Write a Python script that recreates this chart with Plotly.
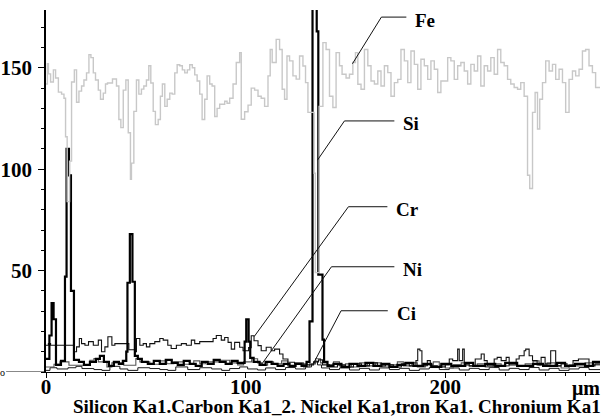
import plotly.graph_objects as go

# ---- data (distance in µm, counts) ----
fe_profile = [
    (0, 142), (0.7, 152), (1.2, 147), (2.3, 143), (3.7, 149), (4.8, 145), (6.2, 138), (7.8, 137),
    (9, 135), (9.8, 116), (10.6, 84), (11.8, 104), (12.8, 143), (14.2, 149), (15.3, 133), (16.5, 138.5),
    (17.8, 141), (19, 144), (20.3, 147.5), (21.5, 156.5), (22.5, 155), (23.7, 147.5), (24.8, 144),
    (26.2, 139), (27.3, 134.5), (28.7, 137.5), (29.8, 142), (30.8, 142.5), (33.3, 144.5), (35.3, 141),
    (36.5, 124.5), (37.5, 120.5), (38.7, 139), (40, 144), (41.2, 118), (42.3, 95), (42.8, 103),
    (44, 128.5), (45.3, 144), (46.5, 137), (47.8, 139.5), (49, 141), (50.3, 144), (51.5, 151),
    (52.5, 142.5), (53.7, 128.5), (54.8, 122), (56.2, 124.5), (57.3, 136), (58.3, 142), (59.5, 131),
    (60.7, 134.5), (62, 137.5), (63.2, 137), (64.5, 147.5), (65.7, 151.5), (67, 151), (68.3, 149),
    (69.5, 147.5), (70.8, 149), (72, 151.5), (73.3, 150), (74.5, 146.5), (75.7, 143.5), (77, 137),
    (78.2, 124.5), (79.5, 134.5), (80.7, 146), (82, 142), (83.2, 141), (84.5, 126), (85.7, 130),
    (87, 132), (88.2, 132), (89.5, 133.5), (90.7, 132.5), (92, 135), (93.7, 142), (95.3, 152.6),
    (97, 157.5), (97.8, 124.6), (99.5, 128.3), (101.2, 131.6), (102.8, 140), (104.5, 139), (106.2, 136),
    (107.8, 135), (109.5, 131), (111.2, 146), (112.3, 159), (113.3, 152.6), (115.3, 164), (117, 159),
    (118.3, 139.4), (119.5, 134.5), (120.7, 155.8), (122, 153.4), (123.7, 146), (125.3, 144.4),
    (127, 155.8), (128.7, 150.9), (130, 142.7), (131.2, 128), (134.3, 98), (134.9, 49), (136.8, 131),
    (138.7, 162.4), (140.3, 159), (142, 136), (143.7, 130.4), (145.3, 157.5), (147, 151), (148.3, 146.8),
    (150.3, 145), (152, 146.8), (153.7, 152.6), (155, 157.5), (156.2, 141.9), (157.8, 139.4), (159.5, 159),
    (161.2, 151), (162.8, 143.5), (164.5, 142), (166.2, 148.4), (167.8, 141), (169.5, 151), (171.2, 147.6),
    (172.8, 136), (174.5, 142.7), (176.2, 144.3), (177.8, 159), (179.5, 153.4), (181.2, 142.7),
    (182.8, 158.3), (184.5, 151.7), (186.2, 139.4), (187.8, 154.2), (189.5, 151), (191.2, 144.3),
    (192.8, 153.4), (194.5, 149.3), (196.2, 137.8), (197.8, 143.5), (201.2, 155), (202.8, 153.4),
    (204.5, 144.3), (206.2, 151), (207.8, 152.6), (209.5, 148.4), (211.2, 142), (212.8, 151.7),
    (214.5, 148.4), (216.2, 155.8), (217.8, 141), (219.5, 151), (221.2, 148.4), (222.8, 155),
    (224.5, 146.8), (226.2, 159), (227.8, 152.6), (229.5, 151), (231.2, 144.3), (232.8, 142),
    (234.5, 140.3), (236.2, 139.4), (237.8, 142.7), (239.5, 136), (241.2, 97), (242.3, 90.5),
    (243.7, 128), (245, 137.8), (246.2, 119.8), (247.3, 134.5), (248.7, 142.7), (250.3, 153.4),
    (252, 148.4), (253.7, 151.7), (255.3, 144.3), (257, 149.3), (258.7, 142.7), (260.3, 128),
    (262, 144.3), (263.7, 148.4), (265.3, 146), (267, 149.3), (268.7, 158.3), (270.3, 159),
    (272, 151), (273.7, 147.6), (275.3, 140.3), (277.5, 140.3),
]

si_profile = [
    (0, 6.5), (1.7, 18), (2.8, 34), (3.8, 26), (5, 3.5), (7.5, 5.5), (9.5, 47), (10.3, 110), (11.5, 97),
    (12.5, 40), (14, 6), (16.5, 5), (19, 3.5), (22, 5), (25, 6.5), (27, 8), (29, 5), (31.5, 3), (34, 5),
    (36.5, 4), (38.5, 5.5), (40.2, 10), (40.8, 44), (42, 68), (43.3, 44.5), (44.5, 8), (46, 6.5), (48, 5),
    (51, 4), (54, 5.5), (57, 4), (60, 6), (63, 4.5), (66, 3.5), (69, 5.5), (72, 4), (75, 3), (78, 5),
    (81, 4), (84, 6), (87, 5), (90, 4), (93, 5.5), (96, 4.5), (99.5, 15), (100.3, 26), (101.5, 15),
    (102.3, 7), (104, 5), (107, 3.5), (110, 5), (113, 4), (116, 3), (119, 4), (122, 3), (125, 4),
    (128, 3), (130.5, 5), (132, 25), (133.5, 182), (135.6, 168), (136.4, 48), (138.5, 16), (139.3, 5),
    (141, 3), (144, 4), (148, 2.5), (152, 4), (156, 3), (160, 4.5), (164, 3), (168, 4), (172, 2.5),
    (176, 3.5), (180, 4.5), (184, 3), (189, 4), (193, 2.5), (198, 4), (203, 3), (210, 4.5), (214, 3),
    (220, 4), (225, 3), (230, 4.5), (236, 3), (244, 4), (249, 3), (256, 4.5), (260, 3), (265, 4),
    (270, 3), (274, 5), (277.5, 5),
]

cr_profile = [
    (0, 13.2), (1.2, 14), (2.3, 13.2), (11.5, 13.2), (14, 10), (15.3, 12.4), (16.7, 16.5), (17.8, 14),
    (19.5, 13.2), (21.3, 15), (23.7, 13.2), (26.2, 15.7), (27.8, 10), (29.5, 12.4), (31, 17.4), (33, 13.2),
    (34.5, 14), (40, 14), (41.5, 11), (44.5, 10), (45.3, 16.5), (47, 13.2), (48.7, 14), (50.3, 12.4),
    (52, 14), (54.5, 15), (57, 16.5), (58.7, 15.7), (61, 13.2), (62.7, 11.6), (65.3, 13.2), (67.8, 14),
    (70.3, 13.2), (72.8, 15.7), (74.5, 14), (77, 15), (80.3, 15), (83.7, 16.5), (85.3, 18), (87.8, 15.7),
    (89.5, 17), (91.2, 14.6), (92.8, 11.3), (94.5, 14.6), (97, 12.2), (98.7, 10.5), (101.5, 12),
    (102.8, 17.9), (104.2, 15.4), (106.2, 13), (107.8, 10.5), (110.3, 12.2), (112.8, 10.5), (114.5, 11.3),
    (117, 8.9), (118.7, 6.4), (121.2, 4.8), (124.5, 3.9), (131, 3.5), (134, 5), (136.5, 6), (138.5, 3.5),
    (142, 2.5), (146, 3.5), (150, 2.5), (154, 4), (158, 3), (162, 4.5), (166, 3), (170, 3.5), (174, 2.5),
    (178, 4), (182, 3), (185.3, 5.6), (186.2, 11.3), (187.3, 10.5), (188.3, 3.1), (191, 5.6), (192.5, 3),
    (196, 2.5), (200, 3.5), (202, 6.4), (203.7, 5.6), (206.2, 11.3), (207, 5.6), (208.7, 11.3),
    (209.5, 3.5), (212, 3), (215, 6.4), (218, 8.9), (219.5, 5.6), (221, 3), (224.5, 6.4), (226, 7.2),
    (228, 5.6), (230.5, 7.2), (232, 3.5), (235.5, 6.4), (237, 8), (239.5, 10.5), (240.3, 11.3), (242, 8),
    (243.7, 5.6), (246, 3.5), (248, 7.2), (250, 4), (252.8, 10.5), (255.3, 3), (258, 4), (261, 3),
    (264, 5.6), (266.7, 6.4), (272, 3), (275, 4), (277.5, 4),
]

ni_profile = [
    (0, 2.5), (4, 3.8), (7, 5), (11.5, 3.3), (16.5, 3.3), (22, 5.8), (24, 6.6), (26.2, 5), (30.5, 2.5),
    (33, 4.5), (39, 3.3), (45, 6.6), (47, 5), (52, 3.8), (57, 5.5), (60.5, 4.1), (64, 5), (69, 3.8),
    (74, 5.5), (77, 4.1), (80, 5), (87, 5.8), (92, 4.5), (96, 3.5), (99, 5), (103, 6.5), (106, 4.5),
    (108, 3.4), (111, 5), (114, 4), (118, 5.5), (121, 3), (125, 4.5), (129, 2.5), (132, 4), (135, 6.5),
    (137.5, 4.5), (141, 3.5), (144, 5), (147, 3), (150, 4), (153, 2.5), (157, 4.5), (161, 3), (165, 4.5),
    (168, 2.5), (172, 3.5), (176, 5), (179, 3), (183, 4.5), (186, 2.5), (190, 3.5), (194, 5), (197, 3),
    (200, 2), (204, 3.5), (208, 4.5), (212, 3), (216, 4), (220, 2.5), (224, 4), (228, 3), (232, 4.5),
    (236, 3), (240, 4), (244, 5.5), (247, 3.5), (251, 4.5), (255, 3), (258, 2), (262, 3.5), (266, 3),
    (270, 4.5), (274, 3.5), (277.5, 3.5),
]

ci_profile = [
    (0, 0.8), (2, 2.1), (5.5, 1.5), (11, 2.1), (15, 2.8), (18, 1.7), (24, 1.2), (28, 0.8), (32, 2.8),
    (37, 1.5), (41, 0.8), (46, 2.1), (52, 1.7), (57, 1.2), (61, 0.8), (65, 2.5), (71, 1.2), (77, 2.1),
    (83, 1.5), (88, 0.8), (92, 1.7), (97, 2.5), (101, 1.5), (106, 1), (110, 2), (115, 1.2), (120, 2.2),
    (125, 1.5), (130, 2.5), (133, 4), (134.5, 5.4), (136, 3.5), (138, 2), (142, 1.2), (147, 2), (152, 1),
    (157, 1.8), (162, 1), (167, 2), (172, 1.2), (177, 1.8), (182, 0.8), (187, 1.5), (192, 2.2), (197, 1.2),
    (202, 2), (207, 1), (212, 1.8), (217, 1.2), (222, 2.2), (227, 1), (232, 1.8), (237, 1.2), (242, 2.2),
    (247, 1), (252, 1.8), (257, 0.8), (262, 1.5), (267, 2.2), (272, 1.2), (277.5, 1.5),
]

x_tick_vals = [0, 100, 200]
y_tick_vals = [50, 100, 150]
title_text = "Silicon Ka1.Carbon Ka1_2. Nickel Ka1,tron Ka1. Chronium Ka1"
unit_text = "μm"

# label name, leader start (on curve), elbow, end of horizontal part
labels = [
    ("Fe", (153.5, 152.0), (168.0, 175.0), (180.5, 175.0)),
    ("Si", (136.0, 104.5), (149.5, 123.8), (174.5, 123.8)),
    ("Cr", (104.3, 17.5), (151.5, 81.5), (171.0, 81.5)),
    ("Ni", (107.8, 3.5), (143.0, 51.9), (174.5, 51.9)),
    ("Ci", (134.5, 5.2), (147.8, 30.2), (171.2, 30.2)),
]

SERIF = "Liberation Serif, Times New Roman, serif"

fig = go.Figure()

def add_series(profile, color, width):
    xs = [p[0] for p in profile]
    ys = [p[1] for p in profile]
    fig.add_trace(go.Scatter(x=xs, y=ys, mode="lines", line=dict(color=color, width=width, shape="hv"),
                             hoverinfo="skip", showlegend=False))

add_series(ci_profile, "#1a1a1a", 1.0)
add_series(ni_profile, "#555555", 1.1)
add_series(cr_profile, "#111111", 1.1)
add_series(si_profile, "#000000", 2.2)
add_series(fe_profile, "#c8c8c8", 1.4)

shapes = []
annotations = []
for name, p0, p1, p2 in labels:
    shapes.append(dict(type="path", xref="x", yref="y",
                       path=f"M {p0[0]},{p0[1]} L {p1[0]},{p1[1]} L {p2[0]},{p2[1]}",
                       line=dict(color="#111111", width=1)))
    annotations.append(dict(x=p2[0] + 3.5, y=p2[1] - 1.5, xref="x", yref="y", text=name, showarrow=False,
                            xanchor="left", yanchor="middle",
                            font=dict(family=SERIF, size=19, color="black", weight="bold")))

# small zero mark on y axis
shapes.append(dict(type="line", xref="paper", yref="y", x0=-0.072, x1=0, y0=0, y1=0,
                   line=dict(color="#111111", width=1)))
annotations.append(dict(x=-0.072, y=0, xref="paper", yref="y", text="o", showarrow=False, xanchor="right",
                        yanchor="middle", xshift=1, font=dict(family=SERIF, size=10, color="black")))
annotations.append(dict(x=1, y=0, xref="paper", yref="paper", text=unit_text, showarrow=False,
                        xanchor="right", yanchor="top", yshift=-3, xshift=2,
                        font=dict(family=SERIF, size=20, color="black", weight="bold")))
annotations.append(dict(x=1, y=0, xref="paper", yref="paper", text=title_text, showarrow=False,
                        xanchor="right", yanchor="top", yshift=-22, xshift=3,
                        font=dict(family=SERIF, size=19, color="black", weight="bold")))

fig.update_layout(
    width=602, height=419,
    margin=dict(l=46, r=2, t=10, b=47, autoexpand=False),
    paper_bgcolor="white", plot_bgcolor="white",
    shapes=shapes, annotations=annotations,
    xaxis=dict(range=[0, 277.5], showgrid=False, zeroline=False, showline=True, linecolor="black",
               linewidth=1.2, ticks="outside", ticklen=5, tickcolor="black", tickwidth=1,
               tickvals=x_tick_vals, ticktext=[str(v) for v in x_tick_vals], ticklabelstandoff=-9,
               tickfont=dict(family=SERIF, size=21, color="black", weight="bold"),
               minor=dict(ticks="outside", ticklen=3, dtick=10, tickcolor="black", tickwidth=1)),
    yaxis=dict(range=[0, 178.5], showgrid=False, zeroline=False, showline=True, linecolor="black",
               linewidth=1.5, ticks="outside", ticklen=6, tickcolor="black", tickwidth=1,
               tickvals=y_tick_vals, ticktext=[str(v) for v in y_tick_vals], ticklabelstandoff=2,
               tickfont=dict(family=SERIF, size=21, color="black", weight="bold"),
               minor=dict(ticks="outside", ticklen=3, dtick=10, tickcolor="black", tickwidth=1)),
)

fig.write_html("out.html", config={"displayModeBar": False},
               post_script="document.body.style.margin='0';document.body.style.overflow='hidden';")
